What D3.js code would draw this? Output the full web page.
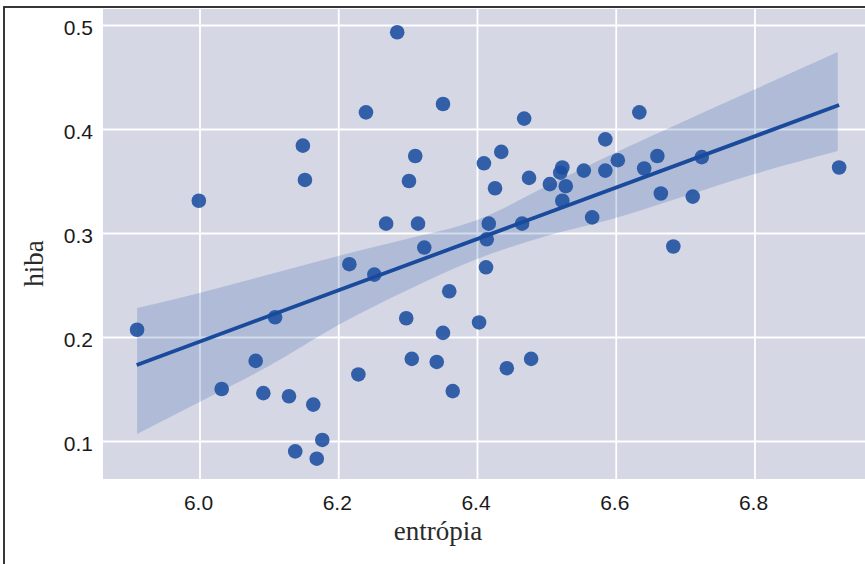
<!DOCTYPE html>
<html>
<head>
<meta charset="utf-8">
<script src="https://cdn.jsdelivr.net/npm/d3@7"></script>
<style>
  html, body { margin: 0; padding: 0; background: #ffffff; }
  svg { display: block; }
</style>
</head>
<body>
<svg id="chart" width="865" height="564"></svg>
<script>
// ---- data ----
const entropia = [5.910, 5.999, 6.032, 6.092, 6.129, 6.138, 6.164, 6.177, 6.169, 6.081,
  6.109, 6.149, 6.152, 6.216, 6.229, 6.240, 6.252, 6.269, 6.285, 6.298,
  6.302, 6.306, 6.311, 6.315, 6.324, 6.342, 6.351, 6.351, 6.360, 6.365,
  6.403, 6.410, 6.413, 6.414, 6.417, 6.426, 6.435, 6.443, 6.465, 6.468,
  6.475, 6.478, 6.505, 6.523, 6.520, 6.528, 6.523, 6.554, 6.566, 6.585,
  6.585, 6.603, 6.634, 6.641, 6.660, 6.665, 6.683, 6.711, 6.724, 6.922];
const hiba = [0.207, 0.331, 0.150, 0.146, 0.143, 0.090, 0.135, 0.101, 0.083, 0.177,
  0.219, 0.384, 0.351, 0.270, 0.164, 0.416, 0.260, 0.309, 0.493, 0.218,
  0.350, 0.179, 0.374, 0.309, 0.286, 0.176, 0.424, 0.204, 0.244, 0.148,
  0.214, 0.367, 0.267, 0.294, 0.309, 0.343, 0.378, 0.170, 0.309, 0.410,
  0.353, 0.179, 0.347, 0.363, 0.358, 0.345, 0.331, 0.360, 0.315, 0.390,
  0.360, 0.370, 0.416, 0.362, 0.374, 0.338, 0.287, 0.335, 0.373, 0.363];

// regression line end points
const fitX = [5.9095, 6.922];
const fitY = [0.1731, 0.4230];

// confidence band edges
const bandX    = [5.91, 6.0, 6.1, 6.2, 6.3, 6.4, 6.5, 6.6, 6.7, 6.8, 6.92];
const bandLow  = [0.1067, 0.1375, 0.1721, 0.2115, 0.2452, 0.2750, 0.2971, 0.3144, 0.3356, 0.3567, 0.3788];
const bandHigh = [0.2279, 0.2423, 0.2600, 0.2780, 0.2945, 0.3125, 0.3450, 0.3775, 0.4080, 0.4380, 0.4740];

const xTicks = [6.0, 6.2, 6.4, 6.6, 6.8];
const yTicks = [0.1, 0.2, 0.3, 0.4, 0.5];

// ---- drawing ----
const svg = d3.select("#chart");
const plot = { left: 103, right: 865, top: 9, bottom: 479 };

const x = d3.scaleLinear().domain([5.8609, 6.9593]).range([plot.left, plot.right]);
const y = d3.scaleLinear().domain([0.06346, 0.51538]).range([plot.bottom, plot.top]);

// plot background
svg.append("rect")
  .attr("x", plot.left).attr("y", plot.top)
  .attr("width", plot.right - plot.left).attr("height", plot.bottom - plot.top)
  .attr("fill", "#d5d7e5");

// grid lines
svg.append("g")
  .attr("transform", `translate(0,${plot.bottom})`)
  .call(d3.axisBottom(x).tickValues(xTicks).tickSize(-(plot.bottom - plot.top)).tickFormat(""))
  .call(g => g.select(".domain").remove())
  .call(g => g.selectAll("line").attr("stroke", "#ffffff").attr("stroke-width", 1.8));

svg.append("g")
  .attr("transform", `translate(${plot.left},0)`)
  .call(d3.axisLeft(y).tickValues(yTicks).tickSize(-(plot.right - plot.left)).tickFormat(""))
  .call(g => g.select(".domain").remove())
  .call(g => g.selectAll("line").attr("stroke", "#ffffff").attr("stroke-width", 1.8));

// confidence band
const bandData = bandX.map((v, i) => ({ x: v, lo: bandLow[i], hi: bandHigh[i] }));
svg.append("path")
  .datum(bandData)
  .attr("d", d3.area().x(d => x(d.x)).y0(d => y(d.lo)).y1(d => y(d.hi)).curve(d3.curveMonotoneX))
  .attr("fill", "#1f50a0")
  .attr("fill-opacity", 0.2);

// points
const pts = entropia.map((v, i) => ({ x: v, y: hiba[i] }));
svg.append("g")
  .selectAll("circle")
  .data(pts)
  .join("circle")
  .attr("cx", d => x(d.x))
  .attr("cy", d => y(d.y))
  .attr("r", 7.3)
  .attr("fill", "#1b4f9f")
  .attr("fill-opacity", 0.88);

// regression line
svg.append("path")
  .datum(fitX.map((v, i) => ({ x: v, y: fitY[i] })))
  .attr("d", d3.line().x(d => x(d.x)).y(d => y(d.y)))
  .attr("fill", "none")
  .attr("stroke", "#1a4a9c")
  .attr("stroke-width", 3.8);

// tick labels
const fmt = d3.format(".1f");
svg.append("g")
  .attr("transform", `translate(0,${plot.bottom})`)
  .call(d3.axisBottom(x).tickValues(xTicks).tickSize(0).tickPadding(0).tickFormat(fmt))
  .call(g => g.select(".domain").remove())
  .call(g => g.selectAll("text")
    .attr("y", 31).attr("dy", null).attr("dx", -1.5)
    .attr("font-family", "'Liberation Sans', Arial, sans-serif")
    .attr("font-size", 21).attr("fill", "#1a1a1a"));

svg.append("g")
  .attr("transform", `translate(${plot.left},0)`)
  .call(d3.axisLeft(y).tickValues(yTicks).tickSize(0).tickPadding(0).tickFormat(fmt))
  .call(g => g.select(".domain").remove())
  .call(g => g.selectAll("text")
    .attr("x", -10).attr("dy", "0.45em").attr("dy", null).attr("y", 10)
    .attr("font-family", "'Liberation Sans', Arial, sans-serif")
    .attr("font-size", 21).attr("fill", "#1a1a1a"));

// axis titles
svg.append("text")
  .attr("x", 438).attr("y", 540)
  .attr("text-anchor", "middle")
  .attr("font-family", "'Liberation Serif', 'Times New Roman', serif")
  .attr("font-size", 27).attr("fill", "#2a2a2a")
  .text("entrópia");

svg.append("text")
  .attr("transform", "translate(43,263.5) rotate(-90)")
  .attr("text-anchor", "middle")
  .attr("font-family", "'Liberation Serif', 'Times New Roman', serif")
  .attr("font-size", 27).attr("fill", "#2a2a2a")
  .text("hiba");

// outer frame
svg.append("rect")
  .attr("x", 4).attr("y", 7)
  .attr("width", 880).attr("height", 580)
  .attr("fill", "none")
  .attr("stroke", "#222222")
  .attr("stroke-width", 1.8);
</script>
</body>
</html>
